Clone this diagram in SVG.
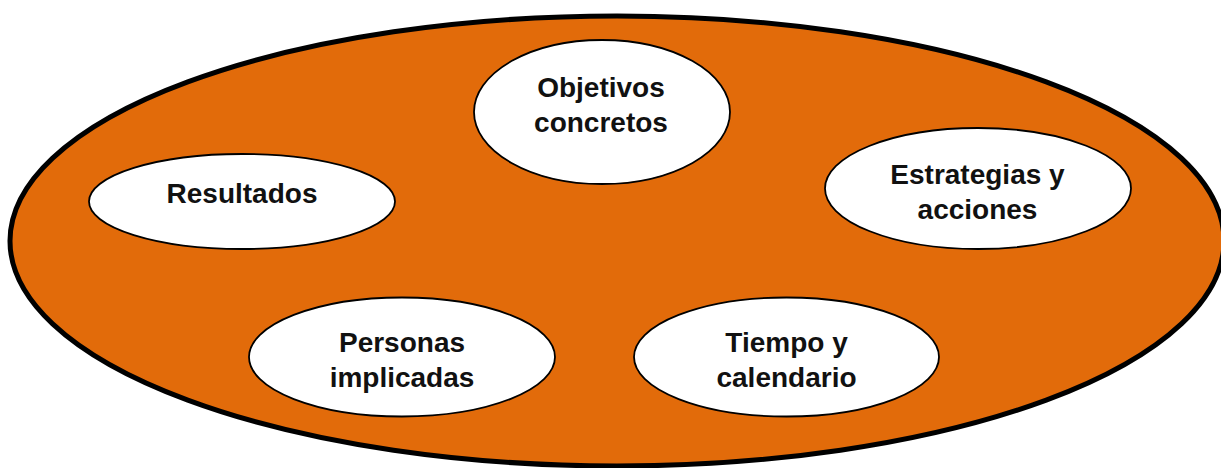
<svg xmlns="http://www.w3.org/2000/svg" width="1221" height="468" viewBox="0 0 1221 468">
<style>
.bg{fill:#E26B0A;stroke:#000;stroke-width:5}
.node{fill:#fff;stroke:#000;stroke-width:1.8}
.lbl{font-family:"Liberation Sans",Arial,sans-serif;font-weight:bold;font-size:28px;fill:#111;text-anchor:middle}
</style>
<rect width="1221" height="468" fill="#fff"/>
<g id="container"><ellipse class="bg" cx="617" cy="241" rx="607" ry="225"/></g>
<g id="connectors"></g>
<g id="objetivos"><ellipse class="node" cx="602" cy="112" rx="128" ry="72"/><text class="lbl" x="601" y="97">Objetivos</text><text class="lbl" x="601" y="132">concretos</text></g>
<g id="resultados"><ellipse class="node" cx="242" cy="201.5" rx="153" ry="47.5"/><text class="lbl" x="242" y="203">Resultados</text></g>
<g id="estrategias"><ellipse class="node" cx="978" cy="188.5" rx="153" ry="60.5"/><text class="lbl" x="977.5" y="184">Estrategias y</text><text class="lbl" x="977.5" y="219">acciones</text></g>
<g id="personas"><ellipse class="node" cx="402" cy="357" rx="153" ry="59.5"/><text class="lbl" x="402" y="352">Personas</text><text class="lbl" x="402" y="387">implicadas</text></g>
<g id="tiempo"><ellipse class="node" cx="786.5" cy="357" rx="152.5" ry="59.5"/><text class="lbl" x="786.5" y="352">Tiempo y</text><text class="lbl" x="786.5" y="387">calendario</text></g>
</svg>
